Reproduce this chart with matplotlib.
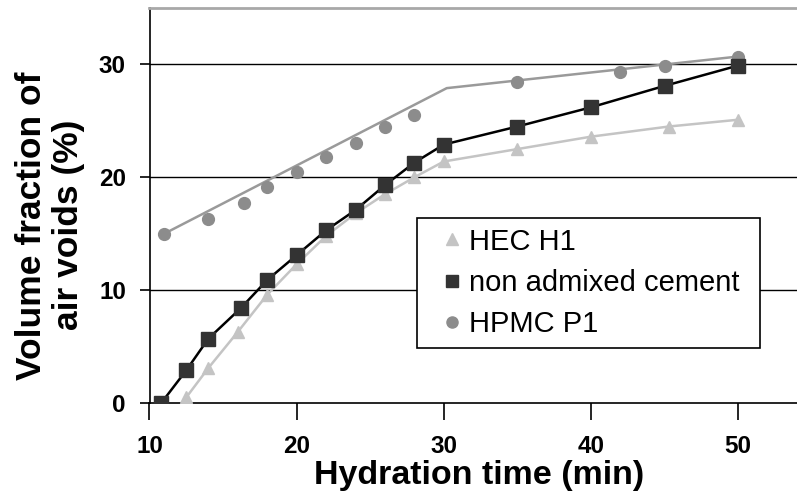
import matplotlib.pyplot as plt
from matplotlib.lines import Line2D

plt.rcParams['font.family'] = ['Liberation Sans', 'DejaVu Sans']

# HEC H1 (triangles)
t_hec = [12.5, 14.0, 16.0, 18.0, 20.0, 22.0, 24.0, 26.0, 28.0, 30.0, 35.0, 40.0, 45.3, 50.0]
v_hec = [0.5, 3.1, 6.3, 9.6, 12.3, 14.8, 16.8, 18.5, 20.0, 21.4, 22.5, 23.6, 24.5, 25.1]

# non admixed cement (squares)
t_ref = [10.8, 12.5, 14.0, 16.2, 18.0, 20.0, 22.0, 24.0, 26.0, 28.0, 30.0, 35.0, 40.0, 45.0, 50.0]
v_ref = [0.0, 2.9, 5.7, 8.4, 10.9, 13.1, 15.3, 17.1, 19.3, 21.3, 22.9, 24.5, 26.2, 28.1, 29.9]

# HPMC P1 (circles)
t_hpmc = [11.0, 14.0, 16.4, 18.0, 20.0, 22.0, 24.0, 26.0, 28.0, 35.0, 42.0, 45.0, 50.0]
v_hpmc = [15.0, 16.3, 17.7, 19.1, 20.5, 21.8, 23.0, 24.5, 25.5, 28.4, 29.3, 29.9, 30.7]

# HPMC fitted line
t_hpmc_fit = [11.0, 30.2, 50.0]
v_hpmc_fit = [15.0, 27.9, 30.7]

c_hec = '#c4c4c4'
c_ref = '#333333'
c_hpmc = '#8c8c8c'

fig = plt.figure(figsize=(7.97, 4.95), dpi=100)
ax = fig.add_axes([149.5 / 797, 1 - 403 / 495, 1 - 149.5 / 797, 395 / 495])

ax.plot(t_hpmc_fit, v_hpmc_fit, color='#9a9a9a', lw=1.8, zorder=2)
ax.plot(t_hpmc, v_hpmc, 'o', color=c_hpmc, ms=8.5, mec=c_hpmc, zorder=3)
ax.plot(t_hec, v_hec, '-', color=c_hec, lw=1.8, zorder=2)
ax.plot(t_hec, v_hec, '^', color=c_hec, ms=9, zorder=3)
ax.plot(t_ref, v_ref, '-', color='black', lw=1.8, zorder=4)
ax.plot(t_ref, v_ref, 's', color=c_ref, ms=9.5, zorder=5)

ax.set_xlim(10, 54)
ax.set_ylim(0, 35)
ax.set_xticks([10, 20, 30, 40, 50])
ax.set_yticks([0, 10, 20, 30])
for y in [10, 20, 30]:
    ax.axhline(y, color='black', lw=1.0, zorder=1)

ax.spines['right'].set_visible(False)
ax.spines['top'].set_color('#a8a8a8')
ax.spines['top'].set_linewidth(2)
ax.spines['left'].set_linewidth(1.2)
ax.spines['bottom'].set_linewidth(1.2)

ax.tick_params(axis='x', direction='out', length=12, width=1.2, pad=11,
               labelsize=17.5)
ax.tick_params(axis='y', direction='out', length=7, width=1.2, pad=10,
               labelsize=17.5)
for lab in ax.get_xticklabels() + ax.get_yticklabels():
    lab.set_fontweight('bold')

ax.set_xlabel('Hydration time (min)', fontsize=24.5, fontweight='bold')
ax.xaxis.set_label_coords(0.509, -0.145)
ax.set_ylabel('Volume fraction of\nair voids (%)', fontsize=25.5,
              fontweight='bold', linespacing=1.15)
ax.yaxis.set_label_coords(-0.1, 0.45)

handles = [
    Line2D([], [], marker='^', color=c_hec, ls='None', ms=8),
    Line2D([], [], marker='s', color=c_ref, ls='None', ms=8),
    Line2D([], [], marker='o', color=c_hpmc, ls='None', ms=8),
]
labels = ['HEC H1', 'non admixed cement', 'HPMC P1']
x0 = (417 - 149.5) / 647.5
y0 = (403 - 349) / 395
leg = ax.legend(handles, labels, loc='upper left', mode='expand',
                bbox_to_anchor=(x0, y0, (760 - 417) / 647.5, (349 - 218) / 395),
                borderaxespad=0, fontsize=21, frameon=True, fancybox=False,
                framealpha=1, edgecolor='black', handlelength=1.75,
                handletextpad=-0.29, labelspacing=0.45, borderpad=0.33)
leg.get_frame().set_linewidth(1.2)
leg.set_zorder(6)

fig.savefig('out.png', dpi=100)
